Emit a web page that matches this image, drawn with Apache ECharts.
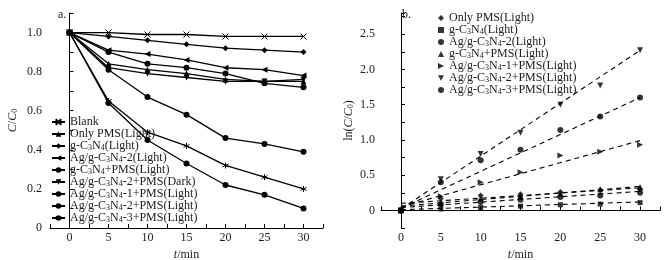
<!DOCTYPE html>
<html>
<head>
<meta charset="utf-8">
<script src="https://cdn.jsdelivr.net/npm/echarts@6/dist/echarts.min.js"></script>
<style>
  html, body { margin: 0; padding: 0; background: #fff; }
  #main { width: 667px; height: 260px; }
</style>
</head>
<body>
<div id="main"></div>
<script>
// 时间
const times = [0, 5, 10, 15, 20, 25, 30]

// a. C/C0 曲线
const namesA = [
  'Blank', 'Only PMS(Light)', 'g-C3N4(Light)', 'Ag/g-C3N4-2(Light)', 'g-C3N4+PMS(Light)',
  'Ag/g-C3N4-2+PMS(Dark)', 'Ag/g-C3N4-1+PMS(Light)', 'Ag/g-C3N4-2+PMS(Light)', 'Ag/g-C3N4-3+PMS(Light)'
]
const blank = [1.0, 1.0, 0.99, 0.99, 0.98, 0.98, 0.98]
const onlyPms = [1.0, 0.84, 0.81, 0.79, 0.76, 0.75, 0.75]
const gcn = [1.0, 0.98, 0.96, 0.94, 0.92, 0.91, 0.90]
const agcn2 = [1.0, 0.91, 0.89, 0.86, 0.82, 0.81, 0.78]
const gcnPms = [1.0, 0.90, 0.84, 0.82, 0.79, 0.74, 0.72]
const agcn2PmsDark = [1.0, 0.82, 0.79, 0.77, 0.75, 0.75, 0.76]
const agcn1Pms = [1.0, 0.81, 0.67, 0.58, 0.46, 0.43, 0.39]
const agcn2Pms = [1.0, 0.64, 0.45, 0.33, 0.22, 0.17, 0.10]
const agcn3Pms = [1.0, 0.65, 0.49, 0.42, 0.32, 0.26, 0.20]
const valuesA = [blank, onlyPms, gcn, agcn2, gcnPms, agcn2PmsDark, agcn1Pms, agcn2Pms, agcn3Pms]

// b. ln(C/C0) 点
const namesB = [
  'Only PMS(Light)', 'g-C3N4(Light)', 'Ag/g-C3N4-2(Light)', 'g-C3N4+PMS(Light)',
  'Ag/g-C3N4-1+PMS(Light)', 'Ag/g-C3N4-2+PMS(Light)', 'Ag/g-C3N4-3+PMS(Light)'
]
const lnOnlyPms = [0, 0.17, 0.21, 0.23, 0.26, 0.29, 0.30]
const lnGcn = [0, 0.02, 0.04, 0.06, 0.08, 0.09, 0.11]
const lnAgcn2 = [0, 0.09, 0.12, 0.15, 0.19, 0.21, 0.25]
const lnGcnPms = [0, 0.10, 0.17, 0.20, 0.24, 0.30, 0.33]
const lnAgcn1Pms = [0, 0.20, 0.40, 0.54, 0.78, 0.83, 0.93]
const lnAgcn2Pms = [0, 0.44, 0.80, 1.10, 1.50, 1.77, 2.27]
const lnAgcn3Pms = [0, 0.40, 0.71, 0.86, 1.14, 1.33, 1.60]
const valuesB = [lnOnlyPms, lnGcn, lnAgcn2, lnGcnPms, lnAgcn1Pms, lnAgcn2Pms, lnAgcn3Pms]

// b. 拟合直线 (t=0 与 t=30 处读数)
const fitTimes = [0, 30]
const fitStart = [0.10, 0.01, 0.04, 0.06, 0.05, 0.02, 0.03]
const fitEnd = [0.32, 0.12, 0.27, 0.34, 0.99, 2.27, 1.60]

const FONT = 'Liberation Serif'
const INK = '#1a1a1a'

// 标记
const sym = {
  cross: 'path://M0,0L10,10M10,0L0,10',
  star: 'path://M5,0L5,10M0.7,2.5L9.3,7.5M0.7,7.5L9.3,2.5',
  left: 'path://M0,5L10,0L10,10Z',
  right: 'path://M10,5L0,0L0,10Z',
  down: 'path://M0,0L10,0L5,9Z'
}
const symbolsA = [sym.cross, 'triangle', 'diamond', sym.left, 'circle', sym.down, 'circle', 'circle', sym.star]
const symbolsB = ['diamond', 'rect', 'circle', 'triangle', sym.right, sym.down, 'circle']

const richStyle = {
  s: { fontSize: 8, lineHeight: 6, verticalAlign: 'bottom', fontFamily: FONT, color: INK },
  i: { fontStyle: 'italic', fontSize: 12, fontFamily: FONT, color: INK }
}
function sub(name) {
  return name.replace(/^b:/, '').replace(/C3N4/g, 'C{s|3}N{s|4}')
}

const seriesA = namesA.map((n, k) => {
  const stroke = symbolsA[k] === sym.cross || symbolsA[k] === sym.star
  return {
    name: n,
    type: 'line',
    xAxisIndex: 0,
    yAxisIndex: 0,
    data: times.map((t, j) => [t, valuesA[k][j]]),
    symbol: symbolsA[k],
    symbolSize: 6,
    lineStyle: { color: '#000', width: 1.3 },
    itemStyle: stroke
      ? { color: '#000', borderColor: '#000', borderWidth: 1 }
      : { color: '#000' },
    z: 3
  }
})

const seriesB = namesB.map((n, k) => ({
  name: 'b:' + n,
  type: 'scatter',
  xAxisIndex: 1,
  yAxisIndex: 1,
  data: times.map((t, j) => [t, valuesB[k][j]]),
  symbol: symbolsB[k],
  symbolSize: symbolsB[k] === 'rect' ? 5 : 6,
  itemStyle: { color: '#000' },
  z: 3
}))

const fitSeries = namesB.map((n, k) => ({
  name: 'fit:' + n,
  type: 'line',
  xAxisIndex: 1,
  yAxisIndex: 1,
  data: [[fitTimes[0], fitStart[k]], [fitTimes[1], fitEnd[k]]],
  showSymbol: false,
  silent: true,
  lineStyle: { color: '#000', width: 1.1, type: [5, 4] },
  z: 2
}))

function xAxis(gridIndex) {
  return {
    gridIndex,
    type: 'value',
    min: -2.5,
    max: 32.5,
    interval: 2.5,
    name: '{i|t}/min',
    nameLocation: 'middle',
    nameGap: 18,
    nameTextStyle: { fontFamily: FONT, fontSize: 12, color: INK, rich: richStyle },
    axisLine: { lineStyle: { color: '#000', width: 1 } },
    axisTick: { inside: true, length: 4, lineStyle: { color: '#000' } },
    axisLabel: {
      margin: 4,
      fontFamily: FONT,
      fontSize: 12,
      color: INK,
      formatter: v => (v >= 0 && Math.abs(v % 5) < 1e-6 ? String(v) : '')
    },
    splitLine: { show: false }
  }
}

const option = {
  animation: false,
  backgroundColor: '#fff',
  textStyle: { fontFamily: FONT },
  grid: [
    { left: 50, top: 13, width: 273, height: 215, outerBoundsMode: 'none' },
    { left: 381, top: 13, width: 279, height: 215, outerBoundsMode: 'none' }
  ],
  graphic: [
    { type: 'text', left: 58, top: 9, style: { text: 'a.', font: '12px "Liberation Serif"', fill: INK } },
    { type: 'text', left: 402, top: 9, style: { text: 'b.', font: '12px "Liberation Serif"', fill: INK } }
  ],
  legend: [
    {
      data: namesA,
      left: 46,
      top: 111,
      orient: 'vertical',
      itemWidth: 13,
      itemHeight: 7,
      itemGap: 0,
      textStyle: { fontFamily: FONT, fontSize: 12, lineHeight: 11.5, color: INK, rich: richStyle },
      formatter: sub,
      selectedMode: false
    },
    {
      data: namesB.map(n => 'b:' + n),
      left: 433,
      top: 7,
      orient: 'vertical',
      itemWidth: 6,
      itemHeight: 6,
      itemGap: 0,
      textStyle: { fontFamily: FONT, fontSize: 12, lineHeight: 11.5, color: INK, rich: richStyle },
      formatter: sub,
      selectedMode: false
    }
  ],
  xAxis: [xAxis(0), xAxis(1)],
  yAxis: [
    {
      gridIndex: 0,
      type: 'value',
      min: 0,
      max: 1.1,
      interval: 0.1,
      name: '{i|C}/{i|C}{s|0}',
      nameLocation: 'middle',
      nameGap: 31,
      nameTextStyle: { fontFamily: FONT, fontSize: 12, color: INK, rich: richStyle },
      axisLine: { show: true, lineStyle: { color: '#000', width: 1 } },
      axisTick: { show: true, inside: true, length: 4, lineStyle: { color: '#000' } },
      axisLabel: {
        margin: 8,
        fontFamily: FONT,
        fontSize: 12,
        color: INK,
        formatter: v => {
          const r = Math.round(v * 10)
          if (r > 10 || r % 2) return ''
          return r === 0 ? '0' : (r / 10).toFixed(1)
        }
      },
      splitLine: { show: false }
    },
    {
      gridIndex: 1,
      type: 'value',
      min: -0.25,
      max: 2.8,
      interval: 0.25,
      name: 'ln({i|C}/{i|C}{s|0})',
      nameLocation: 'middle',
      nameGap: 26,
      nameTextStyle: { fontFamily: FONT, fontSize: 12, color: INK, rich: richStyle },
      axisLine: { show: true, lineStyle: { color: '#000', width: 1 } },
      axisTick: { show: true, inside: true, length: 4, lineStyle: { color: '#000' } },
      axisLabel: {
        margin: 6,
        fontFamily: FONT,
        fontSize: 12,
        color: INK,
        formatter: v => {
          const r = Math.round(v * 4)
          if (r < 0 || r % 2 || r > 10) return ''
          return r === 0 ? '0' : (r / 4).toFixed(1)
        }
      },
      splitLine: { show: false }
    }
  ],
  series: [...seriesA, ...fitSeries, ...seriesB]
}

const chart = echarts.init(document.getElementById('main'), null, { renderer: 'canvas' })
chart.setOption(option)
</script>
</body>
</html>
